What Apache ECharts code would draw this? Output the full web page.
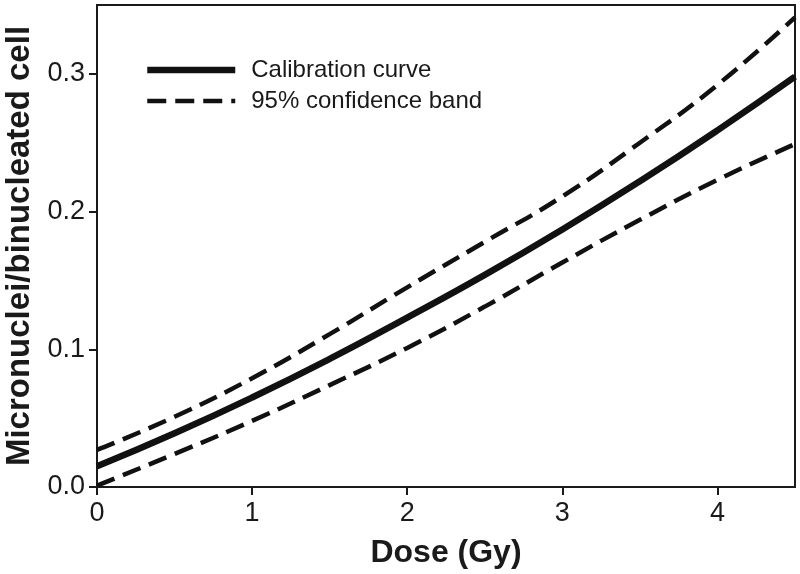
<!DOCTYPE html>
<html>
<head>
<meta charset="utf-8">
<script src="https://cdn.jsdelivr.net/npm/echarts@6/dist/echarts.min.js"></script>
<style>html,body{margin:0;padding:0;background:#fff;}#chart{width:800px;height:574px;}</style>
</head>
<body>
<div id="chart"></div>
<script>
const doses = [0, 0.5, 1, 1.5, 2, 2.5, 3, 3.5, 4, 4.5];
const calibration = [0.015, 0.039, 0.065, 0.093, 0.123, 0.154, 0.187, 0.222, 0.259, 0.298];
const upperBand = [0.027, 0.051, 0.079, 0.111, 0.145, 0.178, 0.211, 0.250, 0.292, 0.341];
const lowerBand = [0.001, 0.024, 0.048, 0.074, 0.101, 0.131, 0.163, 0.194, 0.223, 0.249];
const xTicks = [0, 1, 2, 3, 4];
const yTicks = [0, 0.1, 0.2, 0.3];
const seriesNames = ['Calibration curve', '95% confidence band'];

const pairs = (ys) => doses.map((d, i) => [d, ys[i]]);
const axisColor = '#1a1a1a';
const font = '"Liberation Sans", Arial, sans-serif';

const chart = echarts.init(document.getElementById('chart'), null, {renderer: 'canvas'});
chart.setOption({
  animation: false,
  backgroundColor: '#fff',
  grid: {left: 97, right: 5, top: 5, bottom: 87, show: true, borderColor: axisColor, borderWidth: 2,
    containLabel: false, outerBoundsMode: 'none'},
  legend: {
    left: 144, top: 58, orient: 'vertical', itemWidth: 88, itemHeight: 14, itemGap: 7, padding: 0,
    data: seriesNames,
    itemStyle: {opacity: 0},
    lineStyle: {width: 'inherit', type: 'inherit'},
    textStyle: {fontFamily: font, fontSize: 24, color: '#1a1a1a', padding: [0, 0, 0, 11]}
  },
  xAxis: {
    type: 'value', min: 0, max: 4.5, interval: 1,
    name: 'Dose (Gy)', nameLocation: 'middle', nameGap: 50,
    nameTextStyle: {fontFamily: font, fontSize: 32, fontWeight: 'bold', color: '#1a1a1a'},
    axisLine: {show: true, lineStyle: {color: axisColor, width: 2}},
    axisTick: {show: true, inside: false, length: 8, lineStyle: {color: axisColor, width: 2}, customValues: xTicks},
    axisLabel: {fontFamily: font, fontSize: 27, color: '#1a1a1a', margin: 13, customValues: xTicks},
    splitLine: {show: false}
  },
  yAxis: {
    type: 'value', min: 0, max: 0.35, interval: 0.1,
    name: 'Micronuclei/binucleated cell', nameLocation: 'middle', nameGap: 60,
    nameTextStyle: {fontFamily: font, fontSize: 33, fontWeight: 'bold', color: '#1a1a1a'},
    axisLine: {show: true, lineStyle: {color: axisColor, width: 2}},
    axisTick: {show: true, inside: false, length: 8, lineStyle: {color: axisColor, width: 2}, customValues: yTicks},
    axisLabel: {fontFamily: font, fontSize: 27, color: '#1a1a1a', margin: 12, customValues: yTicks,
      formatter: (v) => v.toFixed(1)},
    splitLine: {show: false}
  },
  series: [
    {name: seriesNames[0], type: 'line', smooth: true, symbol: 'none', data: pairs(calibration),
     lineStyle: {color: '#111', width: 6.5}, itemStyle: {color: '#111'}, z: 3},
    {name: seriesNames[1], type: 'line', smooth: true, symbol: 'none', data: pairs(upperBand),
     lineStyle: {color: '#111', width: 4.5, type: [19, 9]}, itemStyle: {color: '#111'}},
    {name: seriesNames[1], type: 'line', smooth: true, symbol: 'none', data: pairs(lowerBand),
     lineStyle: {color: '#111', width: 4.5, type: [19, 9]}, itemStyle: {color: '#111'}}
  ]
});
</script>
</body>
</html>
